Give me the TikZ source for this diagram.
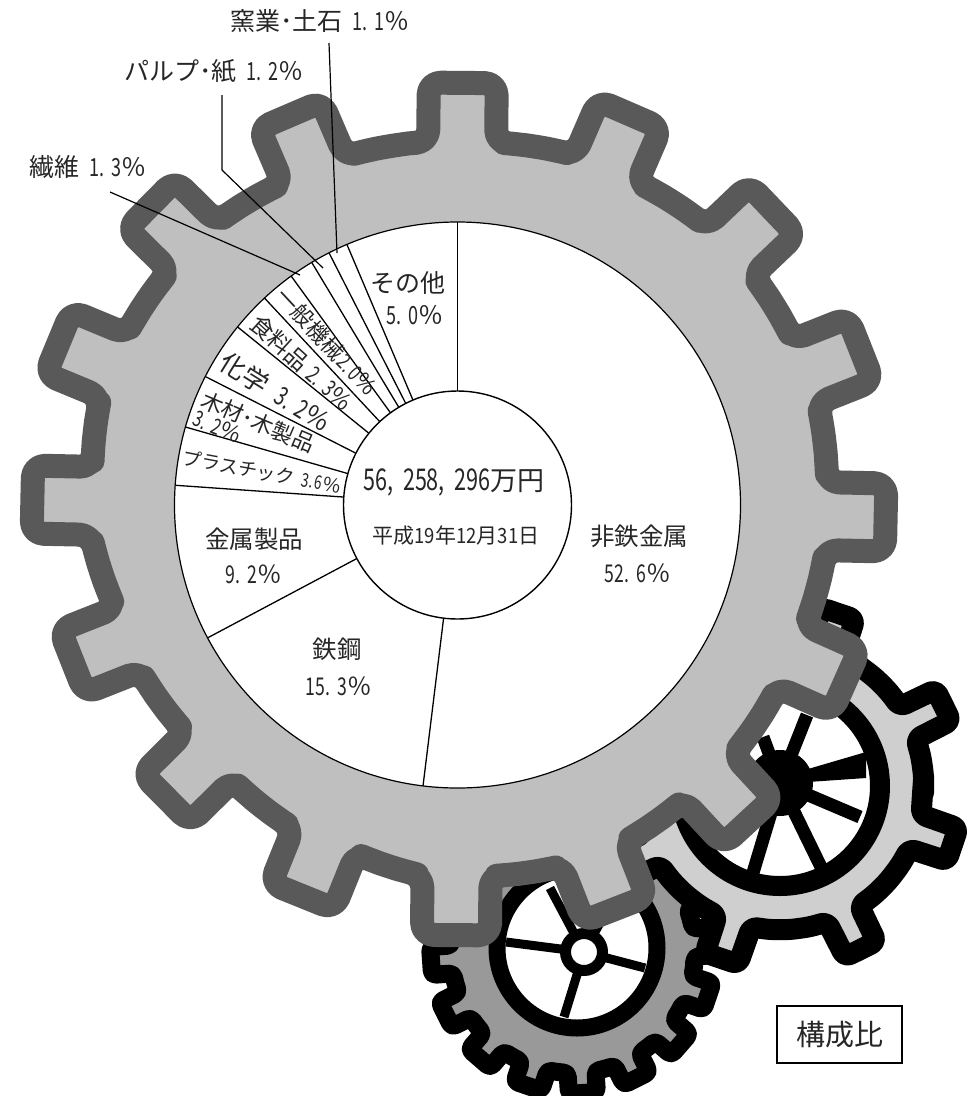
\documentclass[tikz,border=0pt]{standalone}
\usepackage{fontspec}
\setmainfont{Noto Sans CJK JP}
\newfontfamily\nar[FakeStretch=0.72]{Noto Sans CJK JP}
\newfontfamily\nad[FakeStretch=0.88]{Noto Sans CJK JP}
\newcommand{\nm}[1]{{\nar #1}}
\newcommand{\nd}[1]{{\nad #1}}
\newcommand{\gp}{\hspace{0.3em}}
\newcommand{\fs}[1]{\fontsize{#1}{#1}\selectfont}
\definecolor{inkc}{HTML}{262626}
\definecolor{bigfill}{HTML}{BFBFBF}
\definecolor{bigline}{HTML}{595959}
\definecolor{midfill}{HTML}{CFCFCF}
\definecolor{smallfill}{HTML}{999999}
% #1 style, #2 teeth, #3 first angle, #4 tip r, #5 root r, #6 half width tip, #7 half width base, #8 root subdivisions
\newcommand{\drawgear}[8]{%
  \pgfmathsetmacro{\pit}{360/#2}%
  \pgfmathsetmacro{\ttip}{asin(#6/#4)}%
  \pgfmathsetmacro{\tbas}{asin(#7/#5)}%
  \pgfmathsetmacro{\sta}{#3-\pit/2}%
  \pgfmathtruncatemacro{\last}{#2-1}%
  \pgfmathtruncatemacro{\subs}{#8-1}%
  \draw[#1] (\sta:#5)
  \foreach \i [evaluate=\i as \ang using #3+\i*\pit] in {0,...,\last} {
    -- ({\ang-\tbas}:#5) -- ({\ang-\ttip}:#4) -- ({\ang+\ttip}:#4) -- ({\ang+\tbas}:#5)
    \foreach \k in {1,...,\subs} { -- ({\ang+\tbas+(\pit-2*\tbas)*\k/#8}:#5) }
  } -- (\sta:#5);
}
\tikzset{
  bigearl/.style={draw=bigline,fill=bigfill,line width=24pt,line join=round,line cap=round,rounded corners=12pt},
  midgear/.style={draw=black,fill=midfill,line width=21pt,line join=round,line cap=round,rounded corners=6pt},
  smlgear/.style={draw=black,fill=smallfill,line width=18pt,line join=round,line cap=round,rounded corners=4pt},
  lab/.style={text=inkc,inner sep=0pt,align=center},
  sector/.style={draw=black,line width=1.3pt},
  leader/.style={draw=black,line width=1.2pt},
}
\begin{document}
\begin{tikzpicture}[x=1pt,y=-1pt]
\useasboundingbox (0,0) rectangle (976,1096);
% small gear
\begin{scope}[shift={(573,951)}]
  \drawgear{smlgear}{16}{18.5}{143}{122}{14}{14}{2}
\end{scope}
\fill[white] (577,948) circle[radius=80pt];
\draw[black,line width=17pt] (577,948) circle[radius=80pt];
\foreach \ex/\ey in {506/942,645/968,564/1017,550/888,618/890}
  \draw[black,line width=9pt] (584,952) -- (\ex,\ey);
\draw[black,fill=white,line width=11pt] (584,952) circle[radius=18.5pt];
% medium gear
\begin{scope}[shift={(780,786)}]
  \drawgear{midgear}{8}{18.7}{183}{144}{17.5}{18}{4}
\end{scope}
\fill[white] (780,786) circle[radius=100pt];
\draw[black,line width=20pt] (780,786) circle[radius=100pt];
\foreach \ex/\ey in {860/817,821/867,752/876,807/715,763/737,700/830,690/750}
  \draw[black,line width=13pt] (780,783) -- (\ex,\ey);
\fill[black] (808,769) -- (866,752) -- (866,778) -- (808,782) -- cycle;
\fill[black] (780,783) circle[radius=33pt];
% big gear: each tooth with its own angle and radius
\begin{scope}[shift={(459,508.5)}]
  \draw[bigearl] (262:368.6)
  \foreach \A/\R/\An/\Rn [evaluate=\R as \rb using \R-59,
                          evaluate=\Rn as \rbn using \Rn-59,
                          evaluate=\R as \tt using asin(34/\R),
                          evaluate=\R as \tb using asin(34/(\R-59)),
                          evaluate=\Rn as \tbn using asin(34/(\Rn-59))] in
    {-89.5/427/-66.6/431, -66.6/431/-43.6/434.5, -43.6/434.5/-21.6/433.2,
     -21.6/433.2/1.2/428.1, 1.2/428.1/24/424.7, 24/424.7/47.2/427.5,
     47.2/427.5/68.7/431.2, 68.7/431.2/90.4/428, 90.4/428/112/419.5,
     112/419.5/135.3/413.1, 135.3/413.1/158.4/417.1, 158.4/417.1/181.2/428.1,
     181.2/428.1/202.5/434.7, 202.5/434.7/224.6/434, 224.6/434/246.8/429.3,
     246.8/429.3/270.5/427} {
    -- ({\A-\tb}:\rb) -- ({\A-\tt}:\R) -- ({\A+\tt}:\R) -- ({\A+\tb}:\rb)
    \foreach \k in {1,2,3} { -- ({\A+\tb+(\An-\tbn-\A-\tb)*\k/4}:{\rb+(\rbn-\rb)*\k/4}) }
  };
\end{scope}
% pie
\node[circle,draw=black,fill=white,line width=1.2pt,minimum size=566pt,inner sep=0pt,outer sep=0pt] (disc) at (457.5,505) {};
\node[circle,draw=black,fill=white,line width=1.4pt,minimum size=228pt,inner sep=0pt,outer sep=0pt] (hole) at (457.5,505) {};
\foreach \m in {90,113.4,117.5,121.7,126.5,133.6,141.7,153.3,164.6,176,208.6,263}
  \draw[sector] (hole.\m) -- (disc.\m);
% upright labels
\node[lab] (t1) at (408,283) {\fs{25}その他};
\node[lab] (t2) at (415,315) {\fs{25}\nm{5.\gp 0}％};
\node[lab] (t3) at (639,536) {\fs{24.5}非鉄金属};
\node[lab] (t4) at (638,573) {\fs{24.5}\nm{52.\gp 6}％};
\node[lab] (t5) at (254,539) {\fs{24.5}金属製品};
\node[lab] (t6) at (254,574) {\fs{24.5}\nm{9.\gp 2}％};
\node[lab] (t7) at (337,649) {\fs{24.5}鉄鋼};
\node[lab] (t8) at (339,686) {\fs{24.5}\nm{15.\gp 3}％};
\node[lab] (t9) at (454,482) {{\fs{30}\nm{56,\hspace{0.32em}258,\hspace{0.32em}296}}{\fs{27}万円}};
\node[lab] (t10) at (456,536) {\fs{21}平成\nd{19}年\nd{12}月\nd{31}日};
\node[lab] (t11) at (320,21) {\fs{25}窯業･土石\hspace{0.4em}\nm{1.\gp 1}％};
\node[lab] (t12) at (214,71) {\fs{25}パルプ･紙\hspace{0.4em}\nm{1.\gp 2}％};
\node[lab] (t13) at (88,167) {\fs{25}繊維\hspace{0.4em}\nm{1.\gp 3}％};
% rotated labels
\node[lab,rotate=-47] (r1) at (327,342) {\fs{22}一般機械\hspace{0.1em}\nm{2.\hspace{0.1em}0}％};
\node[lab,rotate=-42] (r2) at (302,363) {\fs{23}食料品\hspace{0.3em}\nm{2.\gp 3}％};
\node[lab,rotate=-32] (r3) at (276,392) {\fs{26}化学\hspace{0.5em}\nm{3.\gp 2}％};
\node[lab,rotate=-23] (r4) at (258,422) {\fs{22}木材･木製品};
\node[lab,rotate=-23] (r5) at (218,427) {\fs{22}\nm{3.\gp 2}％};
\node[lab,rotate=-10.6] (r6) at (262,472) {\fs{19}プラスチック\hspace{0.4em}\nm{3.\hspace{0.1em}6}％};
% leaders
\coordinate (a1) at (329,43);
\coordinate (a2) at (337,253);
\coordinate (b1) at (222,95);
\coordinate (b2) at (222,170);
\coordinate (b3) at (323,268);
\coordinate (c1) at (110,192);
\coordinate (c2) at (300,275);
\draw[leader] (a1) -- (a2);
\draw[leader] (b1) -- (b2) -- (b3);
\draw[leader] (c1) -- (c2);
% legend
\node[draw=black,line width=1.1pt,fill=white,text=inkc,minimum width=125pt,minimum height=57pt,inner sep=0pt] (box) at (839.5,1034.5) {\fs{29}構成比};
\end{tikzpicture}
\end{document}
